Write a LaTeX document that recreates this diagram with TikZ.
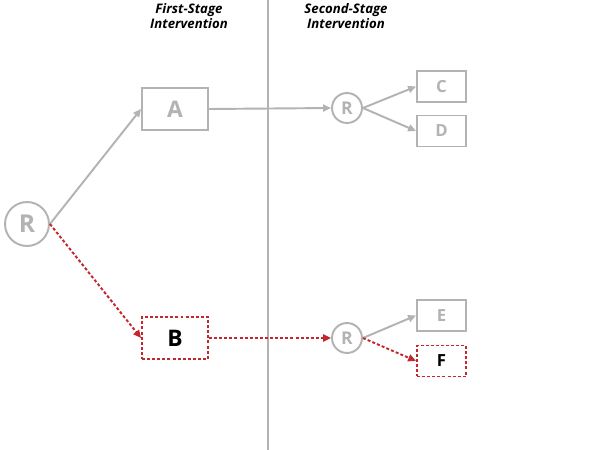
\documentclass[tikz,border=0pt]{standalone}
\usepackage{fontspec}
\setmainfont{Open Sans}
\usetikzlibrary{arrows.meta}
\definecolor{lg}{HTML}{B3B3B3}
\definecolor{rd}{HTML}{C1272D}
\tikzset{
  gline/.style={draw=lg, line width=1.1pt},
  rline/.style={draw=rd, line width=1.1pt, dash pattern=on 1.7pt off 1.2pt},
  garr/.style={gline, -{Triangle[length=4.5pt,width=4pt]}},
  rarr/.style={rline, -{Triangle[length=4.5pt,width=4pt]}, rd},
  bigr/.style={circle, gline, minimum size=0.88cm, inner sep=0, text=lg, font=\bfseries\fontsize{14pt}{14pt}\selectfont},
  smr/.style={circle, gline, minimum size=0.6cm, inner sep=0, text=lg, font=\bfseries\fontsize{10pt}{10pt}\selectfont},
  bigbox/.style={rectangle, gline, minimum width=1.32cm, minimum height=0.84cm, inner sep=0, text=lg, font=\bfseries\fontsize{13pt}{13pt}\selectfont},
  smbox/.style={rectangle, gline, minimum width=0.98cm, minimum height=0.62cm, inner sep=0, text=lg, font=\bfseries\fontsize{9.5pt}{9.5pt}\selectfont},
  redbox/.style={rline, text=black},
  hdr/.style={align=center, font=\bfseries\itshape\fontsize{7.5pt}{9pt}\selectfont, inner sep=0}
}
\begin{document}
\begin{tikzpicture}[x=0.02cm, y=-0.02cm]
\useasboundingbox[fill=white] (0,0) rectangle (600,450);
\coordinate (vt) at (268,0);
\coordinate (vb) at (268,450);
\draw[draw=lg, line width=0.6pt] (vt) -- (vb);
\node[hdr] (h1) at (189,16) {First-Stage\\Intervention};
\node[hdr] (h2) at (346,16) {Second-Stage\\Intervention};
\node[bigr] (R) at (27,224) {R};
\node[bigbox] (A) at (175,109) {A};
\node[bigbox, redbox] (B) at (175,338) {B};
\node[smr] (R1) at (347,108) {R};
\node[smr] (R2) at (347,338) {R};
\node[smbox] (C) at (441.5,86.5) {C};
\node[smbox] (D) at (441.5,131) {D};
\node[smbox] (E) at (441.5,315.5) {E};
\node[smbox, redbox] (F) at (441.5,361) {F};
\draw[garr] (R.east) -- (A.west);
\draw[rarr] (R.east) -- (B.west);
\draw[garr] (A.east) -- (R1.west);
\draw[rarr] (B.east) -- (R2.west);
\draw[garr] (R1.east) -- (C.west);
\draw[garr] (R1.east) -- (D.west);
\draw[garr] (R2.east) -- (E.west);
\draw[rarr] (R2.east) -- (F.west);
\end{tikzpicture}
\end{document}
